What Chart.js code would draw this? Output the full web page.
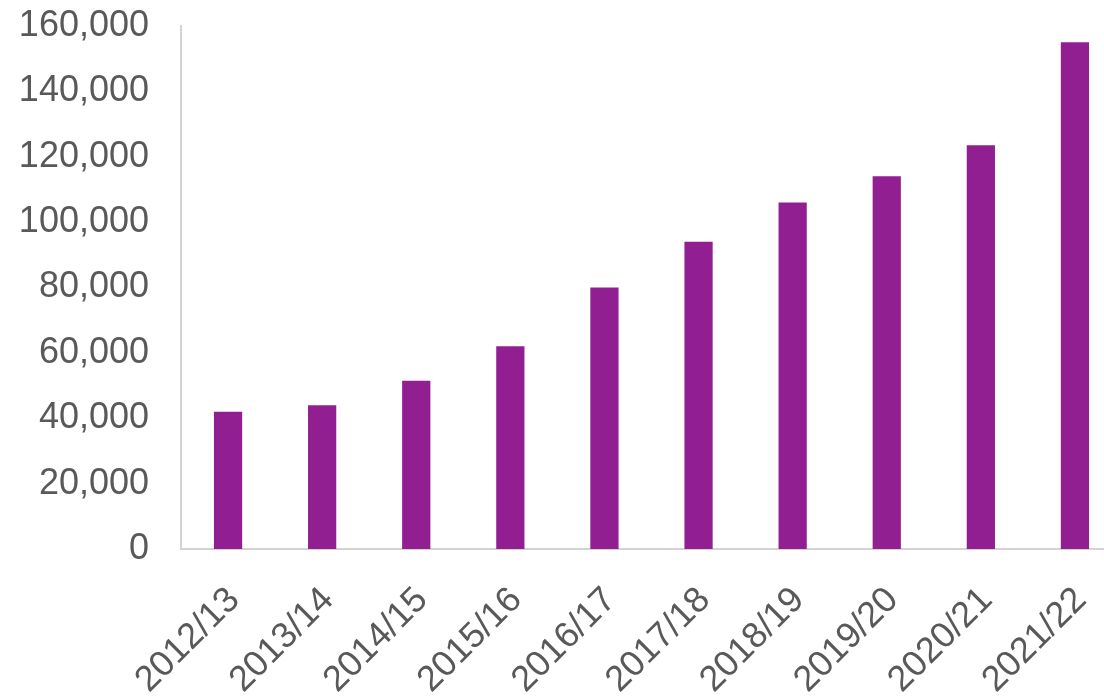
<!DOCTYPE html>
<html lang="en">
<head>
  <meta charset="UTF-8">
  <title>Bar chart 2012/13 - 2021/22</title>
  <script src="https://cdn.jsdelivr.net/npm/chart.js"></script>
  <style>
    html, body { margin: 0; padding: 0; background: #fff; overflow: hidden; }
    /* the source picture is cut off on the right, so the chart is a little wider than the window */
    .wrap { width: 1122px; height: 696px; }
  </style>
</head>
<body>
<div class="wrap">
  <canvas id="grafico"></canvas>
</div>

<script>
  const categorias = ['2012/13', '2013/14', '2014/15', '2015/16', '2016/17',
                      '2017/18', '2018/19', '2019/20', '2020/21', '2021/22'];
  const valores = [42000, 44000, 51500, 62000, 80000, 94000, 106000, 114000, 123500, 155000];
  const ejeY = { min: 0, max: 160000, paso: 20000 };

  const gris = '#595959';
  const fuente = { family: '"Liberation Sans", Arial, sans-serif', size: 36 };

  const ctx = document.getElementById('grafico').getContext('2d');
  new Chart(ctx, {
    type: 'bar',
    data: {
      labels: categorias,
      datasets: [{
        data: valores,
        backgroundColor: '#921f92',
        barPercentage: 0.3,
        categoryPercentage: 1.0
      }]
    },
    options: {
      responsive: true,
      maintainAspectRatio: false,
      animation: false,
      layout: { padding: { top: 26, left: 0, right: 0, bottom: 0 } },
      plugins: { legend: { display: false }, tooltip: { enabled: false } },
      scales: {
        x: {
          grid: { display: false },
          border: { display: true, color: '#d3d3d3', width: 2 },
          ticks: { color: gris, font: fuente, minRotation: 45, maxRotation: 45, padding: 22, labelOffset: 6 },
          afterFit: s => { s.paddingLeft = 0; s.paddingRight = 0; s.height = 147; }
        },
        y: {
          min: ejeY.min,
          max: ejeY.max,
          grid: { display: false },
          border: { display: true, color: '#d3d3d3', width: 2 },
          ticks: {
            stepSize: ejeY.paso,
            color: gris,
            font: fuente,
            padding: 24,
            callback: v => v.toLocaleString('en-US')
          },
          afterFit: s => { s.paddingTop = 0; s.paddingBottom = 0; s.width = 181; }
        }
      }
    }
  });
</script>
</body>
</html>
